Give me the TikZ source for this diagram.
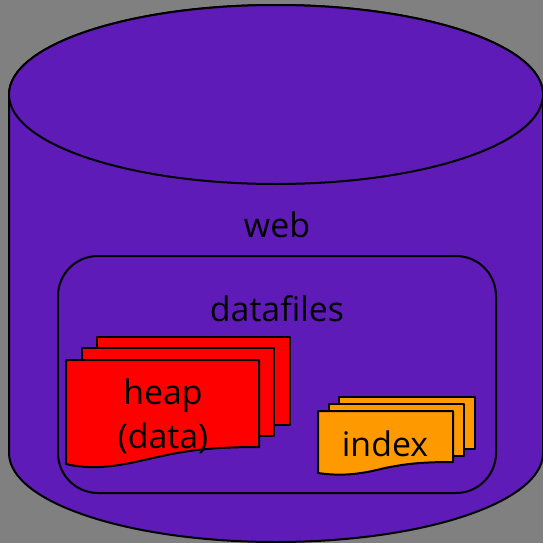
\documentclass[tikz,border=0pt]{standalone}
\usepackage{fontspec}
\setmainfont{Open Sans}
\definecolor{bggray}{HTML}{808080}
\definecolor{dbpurple}{HTML}{5F1BB7}
\definecolor{idxorange}{HTML}{FF9900}
\tikzset{
  x=0.75pt,y=-0.75pt,
  outline/.style={draw=black,line width=1.5pt,line join=round},
  label/.style={inner sep=0pt,text=black,font=\fontsize{25.4}{33}\selectfont,align=center,anchor=base},
}
\begin{document}
\begin{tikzpicture}
\useasboundingbox (0,0) rectangle (543,543);
\fill[bggray] (0,0) rectangle (543,543);
% cylinder
\path[outline,fill=dbpurple] (9,94.5) -- (9,453) arc[start angle=180,end angle=360,x radius=267,y radius=-89] -- (543,94.5) arc[start angle=0,end angle=180,x radius=267,y radius=-89.5] -- cycle;
\path[outline,fill=dbpurple] (9,94.5) arc[start angle=180,end angle=360,x radius=267,y radius=-89.5] arc[start angle=0,end angle=180,x radius=267,y radius=-89.5] -- cycle;
% datafiles container
\path[outline,rounded corners=30pt] (58,256) rectangle (496,493);
% heap sheets
\path[outline,fill=red] (97,337) -- (290,337) -- (290,425) -- (270,425) -- (97,425) -- cycle;
\path[outline,fill=red] (82,348) -- (274,348) -- (274,436) -- (82,436) -- cycle;
\path[outline,fill=red] (66,360) -- (259,360) -- (259,447) .. controls (215,447) and (190,450) .. (162,456) .. controls (130,463) and (100,472) .. (66,464) -- cycle;
% index sheets
\path[outline,fill=idxorange] (339,397) -- (475,397) -- (475,449) -- (339,449) -- cycle;
\path[outline,fill=idxorange] (329,404) -- (464,404) -- (464,456) -- (329,456) -- cycle;
\path[outline,fill=idxorange] (318,411) -- (453,411) -- (453,462) .. controls (420,462) and (405,464) .. (385,468) .. controls (365,473) and (345,477) .. (318,473) -- cycle;
% labels
\node[label] (web) at (277,237) {web};
\node[label] (datafiles) at (277,321) {datafiles};
\node[label] (heap) at (163,404) {heap};
\node[label] (data) at (163,448) {(data)};
\node[label] (index) at (385,456) {index};
\end{tikzpicture}
\end{document}
